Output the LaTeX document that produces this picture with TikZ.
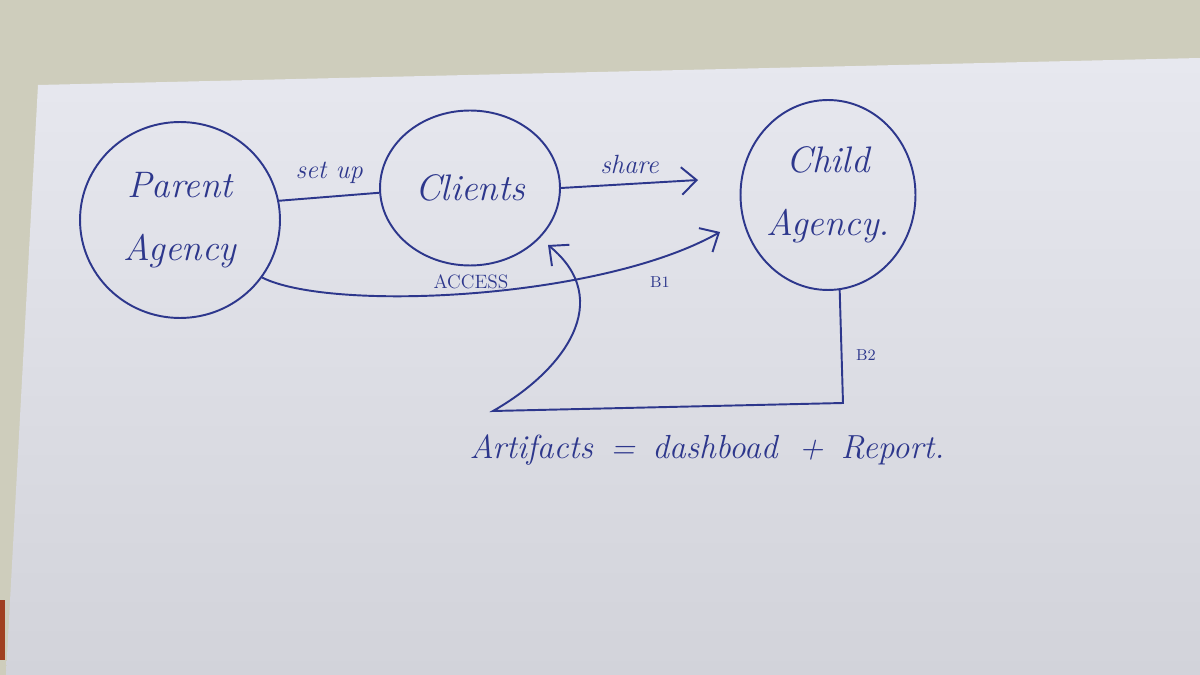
\documentclass[tikz,border=0pt]{standalone}
\usetikzlibrary{shapes.geometric,arrows.meta,calc}
\definecolor{ink}{RGB}{45,55,140}
\definecolor{wall}{RGB}{206,205,188}
\definecolor{papertop}{RGB}{231,232,239}
\definecolor{paperbot}{RGB}{210,211,218}
\definecolor{edge}{RGB}{200,80,40}
\tikzset{
  bubble/.style={ellipse, draw=ink, line width=1.1pt, text=ink, align=center, inner sep=0pt,
    font=\fontsize{21}{34}\selectfont\itshape},
  conn/.style={draw=ink, line width=1.1pt},
  arr/.style={conn, -{Straight Barb[length=3mm,width=5.5mm,line width=1.1pt]}},
  lbl/.style={text=ink, font=\fontsize{15}{18}\selectfont\itshape, inner sep=1pt},
  small/.style={text=ink, font=\fontsize{11}{13}\selectfont, inner sep=1pt},
}
\begin{document}
\begin{tikzpicture}[x=0.02cm,y=-0.02cm]
\useasboundingbox (0,0) rectangle (1200,675);
% background: wall and paper
\fill[wall] (0,0) rectangle (1200,675);
\shade[top color=papertop,bottom color=paperbot] (38,85) -- (1200,58) -- (1200,675) -- (6,675) -- cycle;
\fill[edge!80!black] (0,600) rectangle (5,660);
% nodes
\node[bubble, minimum width=4cm, minimum height=3.92cm] (pa) at (180,220) {Parent\\[2pt]Agency};
\node[bubble, minimum width=3.6cm, minimum height=3.1cm] (cl) at (470,188) {Clients};
\node[bubble, minimum width=3.5cm, minimum height=3.8cm] (ch) at (828,195) {Child\\[2pt]Agency.};
% free ends
\coordinate (shareend) at (698,180);
\coordinate (accend) at (720,232);
\coordinate (b2c) at (843,403);
\coordinate (b2l) at (493,411);
\coordinate (artend) at (548,245);
% connectors
\draw[conn] (pa.11) -- (cl.183) node[lbl, midway, above=6pt] {set up};
\draw[arr] (cl.0) -- (shareend) node[lbl, midway, above=4pt] {share};
\draw[arr] (pa.-35) .. controls (330,312) and (600,300) .. (accend);
\node[small] (access) at (471,282) {ACCESS};
\node[small, font=\fontsize{9}{11}\selectfont] (b1) at (660,282) {B1};
\draw[arr] (ch.-83) -- (b2c) -- (b2l) .. controls (565,370) and (615,300) .. (artend);
\node[small, font=\fontsize{9}{11}\selectfont] (b2) at (866,355) {B2};
\node[text=ink, font=\fontsize{19}{22}\selectfont\itshape] (art) at (707,450) {Artifacts \,=\, dashboad \;+\, Report.};
\end{tikzpicture}
\end{document}
